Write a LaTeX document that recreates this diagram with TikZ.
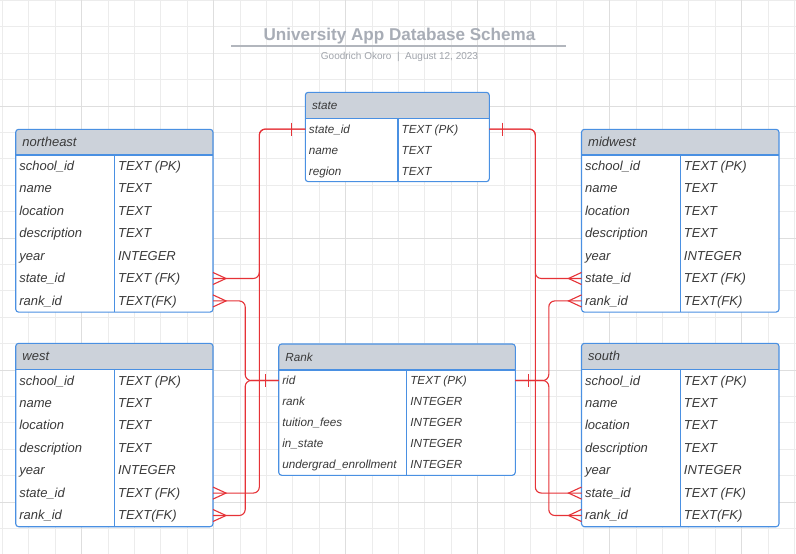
\documentclass[tikz,border=0pt]{standalone}
\usepackage{fontspec}
\setmainfont{Liberation Sans}
\usetikzlibrary{calc}
\definecolor{tblblue}{RGB}{74,144,226}
\definecolor{headgray}{RGB}{204,210,218}
\definecolor{txtgray}{RGB}{58,58,58}
\definecolor{relred}{RGB}{230,50,55}
\definecolor{titlegray}{RGB}{168,173,182}
\definecolor{linegray}{RGB}{178,182,189}
\definecolor{subgray}{RGB}{160,164,171}
\definecolor{gridminor}{RGB}{236,236,236}
\definecolor{gridmajor}{RGB}{222,222,222}
\def\ertfont{\fontsize{13}{15}\selectfont}
\tikzset{
  tblline/.style={draw=tblblue, line width=1.1pt},
  celltext/.style={inner sep=0pt, text=txtgray, font=\ertfont\itshape},
  headtext/.style={inner sep=0pt, text=txtgray, font=\ertfont\itshape},
  rel/.style={draw=relred, line width=1.1pt},
  gridmin/.style={draw=gridminor, line width=0.9pt},
  gridmaj/.style={draw=gridmajor, line width=0.9pt},
}
% #1 name, #2 x, #3 y, #4 width, #5 divider, #6 header h, #7 row h, #8 title, #9 rows
\newcommand{\ertable}[9]{%
  \expandafter\def\expandafter\erlist\expandafter{#9}%
  \def\ernrows{0}%
  \foreach \fd/\ty [count=\i] in \erlist {\xdef\ernrows{\i}}%
  \fill[white, rounded corners=3] (#2,#3) rectangle (#2+#4,#3+#6+\ernrows*#7);
  \fill[headgray] (#2,#3+#6) [rounded corners=3] -- (#2,#3) -- (#2+#4,#3) [sharp corners] -- (#2+#4,#3+#6) -- cycle;
  \node[headtext, anchor=mid west] (#1) at (#2+6.5,#3+#6/2+1.5) {#8};
  \draw[tblline] (#2,#3+#6) -- (#2+#4,#3+#6);
  \draw[tblline] (#2+#5,#3+#6) -- (#2+#5,#3+#6+\ernrows*#7);
  \foreach \fd/\ty [count=\i] in \erlist {
    \node[celltext, anchor=mid west] (#1-\i-f) at (#2+3.4,#3+#6+\i*#7-#7/2+1.5) {\fd};
    \node[celltext, anchor=mid west] (#1-\i-t) at (#2+#5+3.4,#3+#6+\i*#7-#7/2+1.5) {\ty};
    \coordinate (#1-\i-w) at (#2,#3+#6+\i*#7-#7/2);
    \coordinate (#1-\i-e) at (#2+#4,#3+#6+\i*#7-#7/2);
  }
  \draw[tblline, rounded corners=3] (#2,#3) rectangle (#2+#4,#3+#6+\ernrows*#7);
}
\newcommand{\crowR}[1]{\draw[rel] ($(#1)+(0,-6)$) -- ++(13,6) -- ++(-13,6);}
\newcommand{\crowL}[1]{\draw[rel] ($(#1)+(0,-6)$) -- ++(-13,6) -- ++(13,6);}
\newcommand{\tickmark}[2]{\draw[rel] ($(#1)+(#2,-6.5)$) -- ++(0,13);}
\def\schoolrows{school\_id/TEXT (PK), name/TEXT, location/TEXT, description/TEXT, year/INTEGER, state\_id/TEXT (FK), rank\_id/TEXT(FK)}
\begin{document}
\begin{tikzpicture}[x=1pt,y=-1pt]
\useasboundingbox (0,0) rectangle (796,554);
\fill[white] (0,0) rectangle (796,554);
% grid
\foreach \k in {0,...,30} {\draw[gridmin] (2.5+26.4*\k,0) -- (2.5+26.4*\k,554);}
\foreach \k in {0,...,20} {\draw[gridmin] (0,0.4+26.4*\k) -- (796,0.4+26.4*\k);}
\foreach \k in {3,8,...,28} {\draw[gridmaj] (2.5+26.4*\k,0) -- (2.5+26.4*\k,554);}
\foreach \k in {4,9,14,19} {\draw[gridmaj] (0,0.4+26.4*\k) -- (796,0.4+26.4*\k);}
% title
\node[font=\fontsize{17.1}{20}\selectfont\bfseries, text=titlegray, inner sep=0pt] (title) at (399.5,35.8) {University App Database Schema};
\draw[draw=linegray, line width=2pt] (231,45.7) -- (566,45.7);
\node[font=\fontsize{10}{12}\selectfont, text=subgray, inner sep=0pt] (subtitle) at (399.5,57.2) {Goodrich Okoro~~|~~August 12, 2023};
% tables
\def\ertfont{\fontsize{13}{15}\selectfont}
\ertable{ne}{15.7}{129.3}{197.3}{98.8}{25.7}{22.45}{northeast}{\schoolrows}
\ertable{we}{15.7}{343.3}{197.3}{98.8}{26.4}{22.43}{west}{\schoolrows}
\ertable{mw}{581.5}{129.3}{197.5}{98.8}{25.7}{22.45}{midwest}{\schoolrows}
\ertable{so}{581.5}{343.3}{197.5}{98.8}{26.4}{22.43}{south}{\schoolrows}
\def\ertfont{\fontsize{11.7}{14}\selectfont}
\ertable{st}{305.3}{92.3}{184}{92.7}{26.3}{21.03}{state}{state\_id/TEXT (PK), name/TEXT, region/TEXT}
\ertable{rk}{278.7}{344}{236.6}{128}{26}{21.06}{Rank}{rid/TEXT (PK), rank/INTEGER, tuition\_fees/INTEGER, in\_state/INTEGER, undergrad\_enrollment/INTEGER}
% relationships
\draw[rel, rounded corners=6] (st-1-w) -- ++(-46,0) |- (ne-6-e);
\draw[rel, rounded corners=6] (st-1-w) -- ++(-46,0) |- (we-6-e);
\draw[rel, rounded corners=6] (rk-1-w) -- ++(-33.5,0) |- (ne-7-e);
\draw[rel, rounded corners=6] (rk-1-w) -- ++(-33.5,0) |- (we-7-e);
\draw[rel, rounded corners=6] (st-1-e) -- ++(46,0) |- (mw-6-w);
\draw[rel, rounded corners=6] (st-1-e) -- ++(46,0) |- (so-6-w);
\draw[rel, rounded corners=6] (rk-1-e) -- ++(33.5,0) |- (mw-7-w);
\draw[rel, rounded corners=6] (rk-1-e) -- ++(33.5,0) |- (so-7-w);
\crowR{ne-6-e}\crowR{ne-7-e}\crowR{we-6-e}\crowR{we-7-e}
\crowL{mw-6-w}\crowL{mw-7-w}\crowL{so-6-w}\crowL{so-7-w}
\tickmark{st-1-w}{-13.5}\tickmark{st-1-e}{13.5}
\tickmark{rk-1-w}{-13.5}\tickmark{rk-1-e}{13.5}
\end{tikzpicture}
\end{document}
